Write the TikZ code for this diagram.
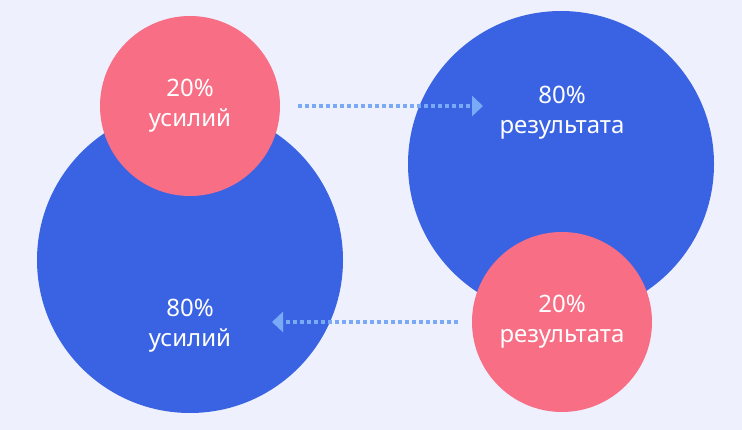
\documentclass[tikz,border=0pt]{standalone}
\usepackage{fontspec}
\setmainfont{Noto Sans}
\usetikzlibrary{arrows.meta}
\definecolor{bgcol}{RGB}{238,241,253}
\definecolor{bigcol}{RGB}{58,99,228}
\definecolor{smallcol}{RGB}{247,110,133}
\definecolor{arrcol}{RGB}{122,170,245}
\begin{document}
\begin{tikzpicture}[x=1pt,y=-1pt]
%%%%%%%%%%%%%%%%%%%%%%%%%%%%%%%%%%%%%%%%%%%%%%%%%%%%%%%%
% STYLE
\tikzstyle{big}=[circle,fill=bigcol,minimum size=306pt,inner sep=0pt]
\tikzstyle{small}=[circle,fill=smallcol,minimum size=180pt,inner sep=0pt,text=white,align=center,font=\fontsize{24}{30}\selectfont]
\tikzstyle{txt}=[text=white,align=center,font=\fontsize{24}{30}\selectfont]

\tikzset{link/.style={-{Triangle[length=11pt,width=20pt]},draw=arrcol,line width=4pt,dash pattern=on 4pt off 3pt}}

%%%%%%%%%%%%%%%%%%%%%%%%%%%%%%%%%%%%%%%%%%%%%%%%%%%%%%%%
% BACKGROUND
\fill[bgcol] (0,0) rectangle (742,430);
\useasboundingbox (0,0) rectangle (742,430);

%%%%%%%%%%%%%%%%%%%%%%%%%%%%%%%%%%%%%%%%%%%%%%%%%%%%%%%%
% NODES
\node[big] (eff80) at (190,260) {};
\node[big] (res80) at (561,164) {};
\node[small] (eff20) at (190,106) {\raisebox{-3pt}{20\%}\\\raisebox{-3pt}{усилий}};
\node[small] (res20) at (562,322) {20\%\\результата};

\node[txt] (txtres80) at (562,113) {80\%\\результата};
\node[txt] (txteff80) at (190,326) {80\%\\усилий};

\coordinate (go1) at (298,106);
\coordinate (go2) at (483,106);
\coordinate (back1) at (458,322);
\coordinate (back2) at (272,322);

%%%%%%%%%%%%%%%%%%%%%%%%%%%%%%%%%%%%%%%%%%%%%%%%%%%%%%%%
% LINKS
\draw[link] (go1) -- (go2);
\draw[link] (back1) -- (back2);
\end{tikzpicture}
\end{document}
